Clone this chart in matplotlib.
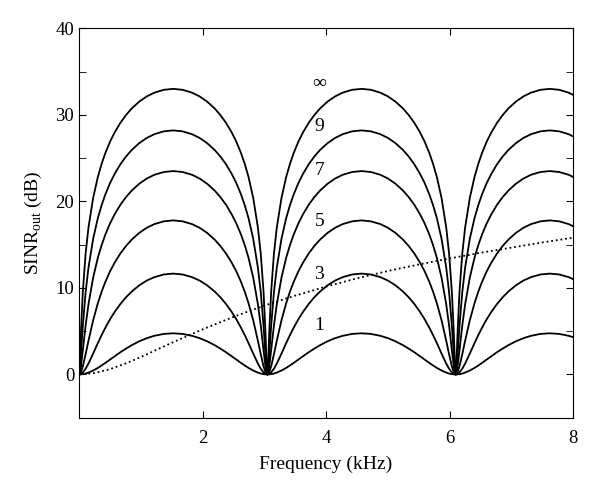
import numpy as np
import matplotlib.pyplot as plt

# frequencies (kHz) where every curve falls back to 0 dB
nulls = [0.0, 3.05, 6.10]
period = 3.05

# half of one lobe: offset from a null (kHz) up to the peak
half_df = [0, 0.015, 0.03, 0.061, 0.107, 0.153, 0.229, 0.305, 0.366, 0.427,
           0.503, 0.580, 0.671, 0.763, 0.854, 0.976, 1.098, 1.22, 1.373, 1.525]

# SINR_out (dB) read along the half lobe, one list per curve
names = ['1', '3', '5', '7', '9', '∞']
sinr_1 = [0, 0.0, 0.01, 0.03, 0.10, 0.21, 0.45, 0.75, 1.03, 1.33,
          1.72, 2.11, 2.57, 2.99, 3.38, 3.83, 4.19, 4.46, 4.68, 4.75]
sinr_3 = [0, 0.01, 0.06, 0.23, 0.66, 1.25, 2.41, 3.62, 4.54, 5.40,
          6.38, 7.25, 8.15, 8.93, 9.58, 10.30, 10.85, 11.24, 11.55, 11.65]
sinr_5 = [0, 0.06, 0.25, 0.91, 2.34, 3.89, 6.26, 8.23, 9.56, 10.70,
          11.92, 12.95, 13.99, 14.86, 15.58, 16.36, 16.95, 17.37, 17.69, 17.80]
sinr_7 = [0, 0.23, 0.86, 2.74, 5.66, 8.10, 11.19, 13.48, 14.94, 16.17,
          17.46, 18.54, 19.62, 20.51, 21.25, 22.04, 22.64, 23.07, 23.39, 23.50]
sinr_9 = [0, 0.65, 2.18, 5.56, 9.52, 12.34, 15.68, 18.06, 19.56, 20.81,
          22.12, 23.21, 24.30, 25.20, 25.94, 26.73, 27.33, 27.76, 28.09, 28.20]
sinr_inf = [0, 1.74, 4.72, 9.48, 13.98, 16.97, 20.40, 22.82, 24.33, 25.59,
            26.91, 28.00, 29.09, 29.99, 30.74, 31.53, 32.13, 32.56, 32.89, 33.00]
curves = [sinr_1, sinr_3, sinr_5, sinr_7, sinr_9, sinr_inf]

# dotted reference curve
dot_f = [0, 0.25, 0.5, 0.75, 1.0, 1.5, 2.0, 2.5, 3.0, 3.5, 4.0, 4.5, 5.0, 5.5, 6.0, 6.5, 7.0, 7.5, 8.0]
dot_db = [0, 0.16, 0.6, 1.25, 2.0, 3.65, 5.2, 6.65, 7.95, 9.1, 10.15, 11.1, 11.95, 12.7, 13.4, 14.05, 14.65, 15.25, 15.8]

plt.rcParams['font.family'] = ['Liberation Serif', 'DejaVu Serif']
plt.rcParams['mathtext.fontset'] = 'custom'
plt.rcParams['mathtext.rm'] = 'Liberation Serif'

fig = plt.figure(figsize=(6, 4.98), dpi=100)
ax = fig.add_axes([0.1317, 0.1613, 0.8233, 0.7819])

hd = np.array(half_df)
lobe_x = np.concatenate([hd, period - hd[::-1][1:]])
for vals in curves:
    v = np.array(vals)
    lobe_y = np.concatenate([v, v[::-1][1:]])
    xs = np.concatenate([n + lobe_x for n in nulls])
    ys = np.concatenate([lobe_y for n in nulls])
    ax.plot(xs, ys, 'k-', lw=1.3)

ax.plot(dot_f, dot_db, 'k', ls=(0, (1, 1.6)), lw=1.3)

label_y = [5.6, 11.6, 17.7, 23.6, 28.6, 33.6]
for name, ly in zip(names, label_y):
    ax.text(3.89, ly, name, fontsize=14, ha='center', va='center')

ax.set_xlim(0, 8)
ax.set_ylim(-5, 40)
ax.set_xticks([2, 4, 6, 8])
ax.set_yticks([0, 10, 20, 30, 40])
ax.set_yticks([-5, 5, 15, 25, 35], minor=True)
ax.tick_params(which='both', direction='in', top=True, right=True, length=5, labelsize=13.5)
ax.tick_params(axis='x', pad=9)
ax.set_xlabel('Frequency (kHz)', fontsize=14, labelpad=6)
ax.set_ylabel(r'SINR$_{\mathrm{out}}$ (dB)', fontsize=14, labelpad=8)

fig.savefig('out.png', dpi=100)
